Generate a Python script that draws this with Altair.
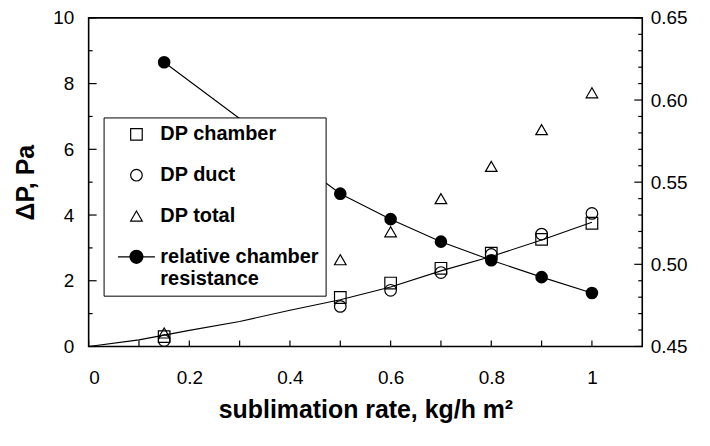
import altair as alt
import pandas as pd

# ---- data ----
rate = [0.15, 0.5, 0.6, 0.7, 0.8, 0.9, 1.0]
dp_chamber = [0.30, 1.49, 1.93, 2.38, 2.84, 3.26, 3.75]
dp_duct = [0.18, 1.22, 1.71, 2.25, 2.80, 3.42, 4.05]
dp_total = [0.41, 2.64, 3.49, 4.50, 5.48, 6.60, 7.72]
rel_resistance = [0.623, 0.543, 0.5275, 0.5138, 0.5025, 0.4922, 0.4825]

fit_x = [0.0, 0.1, 0.2, 0.3, 0.4, 0.5, 0.6, 0.7, 0.8, 0.9, 1.0]
fit_y = [0.0, 0.20, 0.49, 0.76, 1.10, 1.42, 1.81, 2.30, 2.74, 3.24, 3.78]

series_names = ["DP chamber", "DP duct", "DP total", "relative chamber resistance"]

x_tick_values = [0.0, 0.1, 0.2, 0.3, 0.4, 0.5, 0.6, 0.7, 0.8, 0.9, 1.0]
x_label_values = [0, 0.2, 0.4, 0.6, 0.8, 1.0]
yl_major = [0, 2, 4, 6, 8, 10]
yl_minor = [1, 3, 5, 7, 9]
yr_major = [0.45, 0.50, 0.55, 0.60, 0.65]
yr_minor = [0.46, 0.47, 0.48, 0.49, 0.51, 0.52, 0.53, 0.54,
            0.56, 0.57, 0.58, 0.59, 0.61, 0.62, 0.63, 0.64]

W, H = 556, 330
FONT = "Liberation Sans"

dp_df = pd.DataFrame({
    "rate": rate * 3,
    "dp": dp_chamber + dp_duct + dp_total,
    "series": [series_names[0]] * len(rate) + [series_names[1]] * len(rate) + [series_names[2]] * len(rate),
})
rel_df = pd.DataFrame({"rate": rate, "rel": rel_resistance})
fit_df = pd.DataFrame({"rate": fit_x, "dp": fit_y})

xscale = alt.Scale(domain=[0, 1.1], nice=False, zero=False)
ylscale = alt.Scale(domain=[0, 10], nice=False)
yrscale = alt.Scale(domain=[0.45, 0.65], nice=False, zero=False)

legend_path = ("M-3.2,0L3.2,0M-1.12,0A1.12,1.12,0,1,1,1.12,0"
               "A1.12,1.12,0,1,1,-1.12,0Z")

shared_legend = alt.Legend(
    title=None, orient="none", legendX=15, legendY=100,
    strokeColor="black", padding=7, fillColor="white",
    labelFont=FONT, labelFontSize=20, labelFontWeight="bold",
    labelColor="black", labelLimit=400, rowPadding=21,
    symbolStrokeColor="black", symbolStrokeWidth=1.2, symbolSize=135,
    symbolOffset=16, labelOffset=14,
    labelExpr="datum.label == 'relative chamber resistance' ? ['relative chamber', 'resistance'] : datum.label")

x_enc = alt.X("rate:Q", scale=xscale, axis=alt.Axis(
    values=x_label_values, labelExpr="format(datum.value, '~g')",
    title="sublimation rate, kg/h m²", labelPadding=22, titlePadding=10))

fit_line = alt.Chart(fit_df).mark_line(color="black", strokeWidth=1.1).encode(
    x=x_enc,
    y=alt.Y("dp:Q", scale=ylscale, axis=alt.Axis(
        values=yl_major, format="d", title="ΔP, Pa", orient="left",
        labelPadding=15, titlePadding=14)),
)

dp_points = alt.Chart(dp_df).mark_point(
    filled=True, strokeWidth=1.2, size=135, opacity=1
).encode(
    x=alt.X("rate:Q", scale=xscale),
    y=alt.Y("dp:Q", scale=ylscale),
    shape=alt.Shape("series:N", scale=alt.Scale(
        domain=series_names,
        range=["square", "circle", "triangle-up", legend_path]), legend=shared_legend),
    fill=alt.Fill("series:N", scale=alt.Scale(
        domain=series_names,
        range=["transparent", "transparent", "transparent", "black"]), legend=shared_legend),
    stroke=alt.Stroke("series:N", scale=alt.Scale(
        domain=series_names,
        range=["black", "black", "black", "black"]), legend=shared_legend),
)

yl_major_df = pd.DataFrame({"v": yl_major})
yl_minor_df = pd.DataFrame({"v": yl_minor})
yl_ticks_major = alt.Chart(yl_major_df).mark_rule(color="black", strokeWidth=1.2).encode(
    y=alt.Y("v:Q", scale=ylscale), x=alt.value(0), x2=alt.value(8))
yl_ticks_minor = alt.Chart(yl_minor_df).mark_rule(color="black", strokeWidth=1.2).encode(
    y=alt.Y("v:Q", scale=ylscale), x=alt.value(0), x2=alt.value(4))

left_group = alt.layer(fit_line, dp_points, yl_ticks_major, yl_ticks_minor)

rel_line = alt.Chart(rel_df).mark_line(color="black", strokeWidth=1.1).encode(
    x=alt.X("rate:Q", scale=xscale),
    y=alt.Y("rel:Q", scale=yrscale, axis=alt.Axis(
        values=yr_major, format=".2f", title=None, orient="right", labelPadding=8)),
)
rel_points = alt.Chart(rel_df).mark_point(
    filled=True, color="black", size=160, opacity=1, shape="circle"
).encode(
    x=alt.X("rate:Q", scale=xscale),
    y=alt.Y("rel:Q", scale=yrscale),
)
yr_major_df = pd.DataFrame({"v": yr_major})
yr_minor_df = pd.DataFrame({"v": yr_minor})
yr_ticks_major = alt.Chart(yr_major_df).mark_rule(color="black", strokeWidth=1.2).encode(
    y=alt.Y("v:Q", scale=yrscale), x=alt.value(W - 8), x2=alt.value(W))
yr_ticks_minor = alt.Chart(yr_minor_df).mark_rule(color="black", strokeWidth=1.2).encode(
    y=alt.Y("v:Q", scale=yrscale), x=alt.value(W - 4), x2=alt.value(W))

x_ticks_df = pd.DataFrame({"v": x_tick_values})
x_ticks = alt.Chart(x_ticks_df).mark_rule(color="black", strokeWidth=1.2).encode(
    x=alt.X("v:Q", scale=xscale), y=alt.value(H), y2=alt.value(H - 6))

right_group = alt.layer(rel_line, rel_points, yr_ticks_major, yr_ticks_minor, x_ticks)

chart = alt.layer(left_group, right_group).resolve_scale(
    y="independent"
).properties(
    width=W, height=H,
    autosize=alt.AutoSizeParams(type="none"),
    padding={"left": 81, "top": 9, "right": 60, "bottom": 90},
).configure_view(
    stroke="black", strokeWidth=1.6
).configure_axis(
    domain=False, ticks=False, grid=False,
    labelFont=FONT, labelFontSize=19, labelColor="black",
    titleFont=FONT, titleFontSize=25, titleFontWeight="bold", titleColor="black",
).configure_legend(
    labelFont=FONT,
)

chart.save("out.html", embed_options={"renderer": "svg", "actions": False})
